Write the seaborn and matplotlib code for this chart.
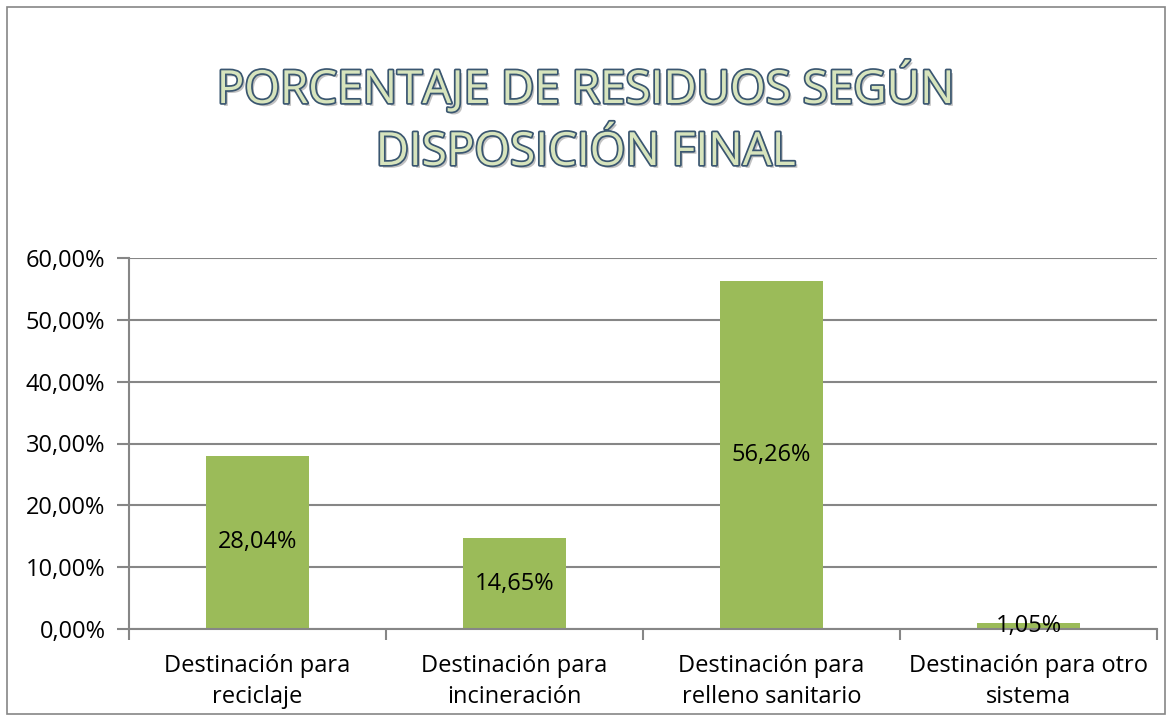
import matplotlib
matplotlib.use("Agg")
import matplotlib.pyplot as plt
import matplotlib.patheffects as pe
from matplotlib.patches import Rectangle
from matplotlib.ticker import FuncFormatter, FixedLocator
import seaborn as sns
import pandas as pd

categories = ["Destinación para\nreciclaje", "Destinación para\nincineración",
              "Destinación para\nrelleno sanitario", "Destinación para otro\nsistema"]
values = [28.04, 14.65, 56.26, 1.05]
title_lines = ["PORCENTAJE DE RESIDUOS SEGÚN", "DISPOSICIÓN FINAL"]

sns.set_theme(style="white")
plt.rcParams['font.family'] = ['Open Sans', 'DejaVu Sans']

df = pd.DataFrame({"cat": categories, "val": values})

fig = plt.figure(figsize=(11.72, 7.21), dpi=100)
ax = fig.add_axes([129/1172, 1 - 629/721, (1157 - 129)/1172, (629 - 258)/721])

sns.barplot(data=df, x="cat", y="val", color="#9bbb59", width=0.4, ax=ax,
            saturation=1, edgecolor="none")

ax.set_ylim(0, 60)
ax.set_xlim(-0.5, 3.5)
ax.set_yticks([0, 10, 20, 30, 40, 50, 60])
ax.yaxis.set_major_formatter(FuncFormatter(lambda v, p: f"{v:.2f}%".replace(".", ",")))
ax.grid(axis="y", color="#868686", linewidth=1.5)
ax.set_axisbelow(True)
for s in ["top", "right"]:
    ax.spines[s].set_visible(False)
for s in ["left", "bottom"]:
    ax.spines[s].set_color("#868686")
    ax.spines[s].set_linewidth(1.5)
ax.set_xlabel("")
ax.set_ylabel("")

ax.tick_params(axis="y", which="major", direction="out", length=9, width=1.5,
               color="#868686", labelsize=17, labelcolor="black", left=True, pad=8)
ax.tick_params(axis="x", which="major", length=0, labelsize=17, labelcolor="black", pad=18)
ax.xaxis.set_minor_locator(FixedLocator([-0.5, 0.5, 1.5, 2.5, 3.5]))
ax.tick_params(axis="x", which="minor", direction="out", length=8, width=1.5,
               color="#868686", bottom=True)
for lab in ax.get_xticklabels():
    lab.set_linespacing(1.4)

for i, v in enumerate(values):
    ax.text(i, v / 2, f"{v:.2f}%".replace(".", ","), ha="center", va="center",
            fontsize=17, color="black")

effects = [pe.withSimplePatchShadow(offset=(2, -2), shadow_rgbFace="#999999", alpha=0.6),
           pe.Stroke(linewidth=2.5, foreground="#3a5670"), pe.Normal()]
for y, line in zip([88, 153], title_lines):
    fig.text(0.5, 1 - y/721, line, ha="center", va="center", fontsize=33,
             color="#d7e4bd", path_effects=effects)

fig.patches.append(Rectangle((7/1172, 7/721), 1158/1172, 707/721, transform=fig.transFigure,
                             fill=False, edgecolor="#868686", linewidth=1.2))

fig.savefig("out.png", dpi=100)
